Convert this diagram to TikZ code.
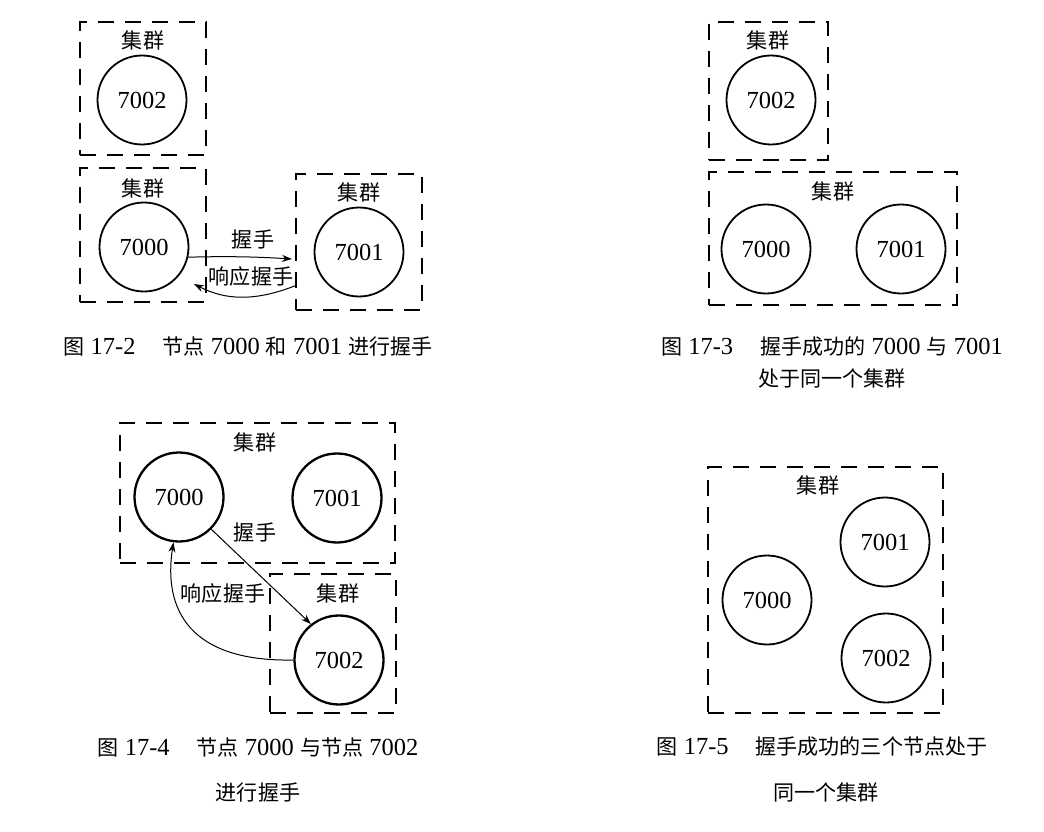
\documentclass[tikz,border=0pt]{standalone}
\usepackage{fontspec}
\setmainfont{Liberation Serif}
\newfontfamily\cjk{Noto Sans CJK SC}[Scale=0.86]
\usetikzlibrary{arrows.meta}
\tikzset{
  cluster/.style={draw, line width=2pt, dash pattern=on 16pt off 11pt, minimum width=#1},
  srv/.style={draw, circle, line width=1.8pt, minimum size=89pt, inner sep=0pt},
  srvb/.style={srv, line width=2.3pt},
  lbl/.style={inner sep=1pt},
  arr/.style={line width=1pt, -{Stealth[length=10pt,width=7pt]}},
  capt/.style={inner sep=0pt, align=center},
}
\newcommand{\jq}{{\cjk 集群}}
\begin{document}
\begin{tikzpicture}[x=1pt, y=-1pt, font=\fontsize{24.5}{28}\selectfont]
\useasboundingbox (0,0) rectangle (1044,832);
% ---------- Fig 17-2 ----------
\node[cluster=126pt, minimum height=133pt] (a1) at (143,88.5) {};
\node[lbl] (a1l) at (143,40) {\jq};
\node[srv] (a1c) at (142,100) {7002};
\node[cluster=126pt, minimum height=134pt] (a2) at (143,235) {};
\node[lbl] (a2l) at (143,188) {\jq};
\node[srv] (a2c) at (144,247) {7000};
\node[cluster=126pt, minimum height=136pt] (a3) at (359,242) {};
\node[lbl] (a3l) at (359,192) {\jq};
\node[srv] (a3c) at (359,252) {7001};
\coordinate (a3in) at (292,259);
\coordinate (a3out) at (297,285);
\coordinate (a2in) at (194,284);
\draw[arr] (a2c.-13) .. controls (230,256) and (260,257) .. (a3in);
\node[lbl] at (253,240) {\cjk 握手};
\draw[arr] (a3out) .. controls (255,302) and (225,300) .. (a2in);
\node[lbl] at (251,276) {\cjk 响应握手};
\node[capt] at (248,347) {{\cjk 图} 17-2\hspace{1.1em}{\cjk 节点} 7000 {\cjk 和} 7001 {\cjk 进行握手}};
% ---------- Fig 17-3 ----------
\node[cluster=119pt, minimum height=138pt] (b1) at (768.5,91) {};
\node[lbl] (b1l) at (768,40) {\jq};
\node[srv] (b1c) at (771,100) {7002};
\node[cluster=248pt, minimum height=133pt] (b2) at (833,238.5) {};
\node[lbl] (b2l) at (833,191) {\jq};
\node[srv] (b2a) at (766,249) {7000};
\node[srv] (b2b) at (901,249) {7001};
\node[capt] at (832,347) {{\cjk 图} 17-3\hspace{1.1em}{\cjk 握手成功的} 7000 {\cjk 与} 7001};
\node[capt] at (832,378) {\cjk 处于同一个集群};
% ---------- Fig 17-4 ----------
\node[cluster=275pt, minimum height=140pt] (c1) at (257.5,493) {};
\node[lbl] (c1l) at (255,442) {\jq};
\node[srvb] (c1a) at (179,497) {7000};
\node[srvb] (c1b) at (337,498) {7001};
\node[cluster=126pt, minimum height=139pt] (c2) at (333,643.5) {};
\node[lbl] (c2l) at (338,593) {\jq};
\node[srvb] (c2c) at (339,660) {7002};
\draw[arr] (c1a.-45) -- (c2c.128);
\node[lbl] at (255,533) {\cjk 握手};
\draw[arr] (c2c.west) .. controls (190,662) and (163,610) .. (c1a.-97);
\node[lbl] at (223,593) {\cjk 响应握手};
\node[capt] at (258,747) {{\cjk 图} 17-4\hspace{1.1em}{\cjk 节点} 7000 {\cjk 与节点} 7002};
\node[capt] at (258,793) {\cjk 进行握手};
% ---------- Fig 17-5 ----------
\node[cluster=235pt, minimum height=246pt] (d1) at (825.5,590) {};
\node[lbl] (d1l) at (818,485) {\jq};
\node[srv] (d1b) at (885,542) {7001};
\node[srv] (d1a) at (767,600) {7000};
\node[srv] (d1c) at (886,658) {7002};
\node[capt] at (822,747) {{\cjk 图} 17-5\hspace{1.1em}{\cjk 握手成功的三个节点处于}};
\node[capt] at (826,792) {\cjk 同一个集群};
\end{tikzpicture}
\end{document}
